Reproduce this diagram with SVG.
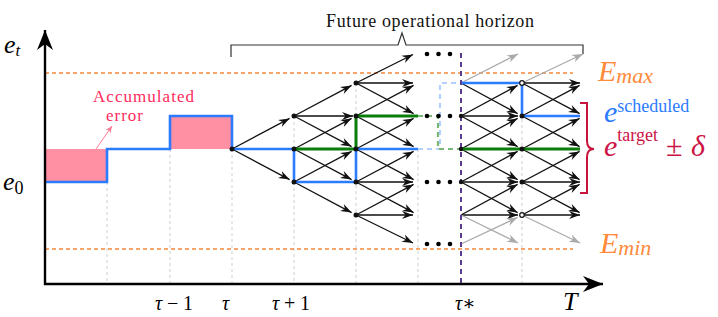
<svg xmlns="http://www.w3.org/2000/svg" width="718" height="317" viewBox="0 0 718 317">
<style>
.grid{stroke:#cfcfcf;stroke-width:1;stroke-dasharray:3 3;fill:none}
.lim{stroke:#f7883a;stroke-width:1.6;stroke-dasharray:4 3;fill:none}
.ar{stroke:#111;stroke-width:1.3;fill:none;marker-end:url(#ah)}
.gr{stroke:#aaa;stroke-width:1.3;fill:none;marker-end:url(#ahg)}
.blue{stroke:#2b7bff;stroke-width:2.6;fill:none}
.green{stroke:#0a7d0a;stroke-width:3;fill:none}
.dot{fill:#111}
.t{font-family:"Liberation Serif","DejaVu Serif",serif}
.it{font-style:italic}
</style>
<defs>
<marker id="ah" markerUnits="userSpaceOnUse" markerWidth="14" markerHeight="10" viewBox="-11 -5 12 10" refX="0" refY="0" orient="auto"><path d="M0,0 L-11,-4 L-7.5,0 L-11,4 Z" fill="#111"/></marker>
<marker id="ahg" markerUnits="userSpaceOnUse" markerWidth="14" markerHeight="10" viewBox="-11 -5 12 10" refX="0" refY="0" orient="auto"><path d="M0,0 L-11,-4 L-7.5,0 L-11,4 Z" fill="#aaa"/></marker>
<marker id="ahp" markerUnits="userSpaceOnUse" markerWidth="10" markerHeight="8" viewBox="-8 -4 9 8" refX="0" refY="0" orient="auto"><path d="M0,0 L-7,-3 L-5,0 L-7,3 Z" fill="#ff7a95"/></marker>
<marker id="axh" markerUnits="userSpaceOnUse" markerWidth="24" markerHeight="18" viewBox="-21 -9 22 18" refX="0" refY="0" orient="auto"><path d="M0,0 L-20,-8 L-14,0 L-20,8 Z" fill="#000"/></marker>
</defs>

<g id="gridlines">
<path class="grid" d="M107,182V284M170,149V284M232,149V284M294,116V284M356,83V284M418,149V284M522,83V284"/>
</g>

<g id="limits">
<path class="lim" d="M45,73H573M45,249H573"/>
</g>

<g id="accumulated-error-area">
<rect x="45" y="149" width="62" height="33" fill="#ff8fa2"/>
<rect x="170" y="116" width="62" height="33" fill="#ff8fa2"/>
</g>

<g id="connectors">
<path class="ar" d="M232,149L289.6,118.4"/>
<path class="ar" d="M232,149L289.6,179.6"/>
<path class="ar" d="M294,116L351.6,85.4"/>
<path class="ar" d="M294,116L353,116"/>
<path class="ar" d="M294,116L351.6,146.6"/>
<path class="ar" d="M294,149L351.6,118.4"/>
<path class="ar" d="M294,149L351.6,179.6"/>
<path class="ar" d="M294,182L351.6,151.4"/>
<path class="ar" d="M294,182L351.6,212.6"/>
<path class="ar" d="M356,83L413,54.5"/>
<path class="ar" d="M356,83L413,83"/>
<path class="ar" d="M356,83L413.6,113.6"/>
<path class="ar" d="M356,116L413.6,85.4"/>
<path class="ar" d="M356,116L413.6,146.6"/>
<path class="ar" d="M356,149L413.6,118.4"/>
<path class="ar" d="M356,149L413.6,179.6"/>
<path class="ar" d="M356,182L413.6,151.4"/>
<path class="ar" d="M356,182L413,182"/>
<path class="ar" d="M356,182L413.6,212.6"/>
<path class="ar" d="M356,215L413.6,184.4"/>
<path class="ar" d="M356,215L413,215"/>
<path class="ar" d="M356,215L413,243"/>
<path class="gr" d="M461,83L518,54"/>
<path class="ar" d="M461,83L517.6,113.6"/>
<path class="ar" d="M461,116L517.6,85.4"/>
<path class="ar" d="M461,116L518,116"/>
<path class="ar" d="M461,116L517.6,146.6"/>
<path class="ar" d="M461,149L517.6,118.4"/>
<path class="ar" d="M461,149L517.6,179.6"/>
<path class="ar" d="M461,182L517.6,151.4"/>
<path class="ar" d="M461,182L518,182"/>
<path class="ar" d="M461,182L517.6,212.6"/>
<path class="ar" d="M461,215L517.6,184.4"/>
<path class="ar" d="M461,215L518,215"/>
<path class="gr" d="M461,215L518,243"/>
<path class="gr" d="M461,244L517.6,217.4"/>
<path class="gr" d="M522,83L583,54"/>
<path class="ar" d="M522,83L580,83"/>
<path class="ar" d="M522,83L579.6,113.6"/>
<path class="ar" d="M522,116L579.6,85.4"/>
<path class="ar" d="M522,116L579.6,146.6"/>
<path class="ar" d="M522,149L579.6,118.4"/>
<path class="ar" d="M522,149L579.6,179.6"/>
<path class="ar" d="M522,182L579.6,151.4"/>
<path class="ar" d="M522,182L580,182"/>
<path class="ar" d="M522,182L579.6,212.6"/>
<path class="ar" d="M522,215L579.6,184.4"/>
<path class="ar" d="M522,215L580,215"/>
<path class="gr" d="M522,215L580,243"/>
<path d="M96,149L112,126" stroke="#ff7a95" stroke-width="1" fill="none" marker-end="url(#ahp)"/>
</g>

<g id="schedule-paths">
<path d="M418,149H440V83H461" stroke="#b3d0ff" stroke-width="2.2" stroke-dasharray="5 4" fill="none"/>
<path d="M418,116H438V149H461" stroke="#77b877" stroke-width="2.2" stroke-dasharray="5 4" fill="none"/>
<path class="blue" d="M45,182H107V149H170V116H232V149H294V182H356V149H418"/>
<path class="blue" d="M461,83H522V116H580"/>
<path class="green" d="M294,149H356V116H418"/>
<path class="green" d="M461,149H580"/>
</g>

<g id="tau-star-line">
<path d="M461,53V284" stroke="#5a3b8c" stroke-width="2" stroke-dasharray="5 4" fill="none"/>
</g>

<g id="nodes">
<g id="n-tau"><circle class="dot" cx="232" cy="149" r="2.5"/></g>
<g id="n1-116"><circle class="dot" cx="294" cy="116" r="2.5"/></g>
<g id="n1-149"><circle class="dot" cx="294" cy="149" r="2.5"/></g>
<g id="n1-182"><circle class="dot" cx="294" cy="182" r="2.5"/></g>
<g id="n2-83"><circle class="dot" cx="356" cy="83" r="2.5"/></g>
<g id="n2-116"><circle class="dot" cx="356" cy="116" r="2.5"/></g>
<g id="n2-149"><circle class="dot" cx="356" cy="149" r="2.5"/></g>
<g id="n2-182"><circle class="dot" cx="356" cy="182" r="2.5"/></g>
<g id="n2-215"><circle class="dot" cx="356" cy="215" r="2.5"/></g>
<g id="ns-116"><circle class="dot" cx="461" cy="116" r="2.2"/></g>
<g id="ns-149"><circle class="dot" cx="461" cy="149" r="2.2"/></g>
<g id="ns-182"><circle class="dot" cx="461" cy="182" r="2.2"/></g>
<g id="n4-83"><circle cx="522" cy="83" r="2.3" fill="#fff" stroke="#111" stroke-width="1.2"/></g>
<g id="n4-116"><circle class="dot" cx="522" cy="116" r="2.5"/></g>
<g id="n4-149"><circle class="dot" cx="522" cy="149" r="2.5"/></g>
<g id="n4-182"><circle class="dot" cx="522" cy="182" r="2.5"/></g>
<g id="n4-215"><circle cx="522" cy="215" r="2.3" fill="#fff" stroke="#111" stroke-width="1.2"/></g>
<g id="ellipses" fill="#000">
<circle cx="427" cy="54" r="2.3"/><circle cx="438.5" cy="54" r="2.3"/><circle cx="450" cy="54" r="2.3"/>
<circle cx="427" cy="116" r="2.3"/><circle cx="438.5" cy="116" r="2.3"/><circle cx="450" cy="116" r="2.3"/>
<circle cx="427" cy="182" r="2.3"/><circle cx="438.5" cy="182" r="2.3"/><circle cx="450" cy="182" r="2.3"/>
<circle cx="427" cy="244" r="2.3"/><circle cx="438.5" cy="244" r="2.3"/><circle cx="450" cy="244" r="2.3"/>
</g>
</g>

<g id="axes">
<path d="M45,285V30" stroke="#000" stroke-width="2.4" fill="none" marker-end="url(#axh)"/>
<path d="M44,284H603" stroke="#000" stroke-width="2.4" fill="none" marker-end="url(#axh)"/>
</g>

<g id="horizon-brace">
<path d="M231,57V45H398L402,33L406,45H583V54" stroke="#333" stroke-width="1.2" fill="none"/>
<text class="t" x="326" y="27" font-size="18" textLength="208" fill="#111">Future operational horizon</text>
</g>

<g id="target-brace">
<path d="M580,103H587V141Q587,149 594,149Q587,149 587,157V193H580" stroke="#c8143c" stroke-width="2" fill="none"/>
</g>

<g id="labels">
<text class="t it" x="4" y="53" font-size="26">e<tspan font-size="17" dy="3">t</tspan></text>
<text class="t it" x="3" y="190" font-size="26">e<tspan font-size="18" dy="4" font-style="normal">0</tspan></text>
<text class="t" x="93" y="102" font-size="17" textLength="101" fill="#ff2a5c">Accumulated</text>
<text class="t" x="106" y="121" font-size="17" textLength="37" fill="#ff2a5c">error</text>
<text class="t" x="155" y="310" font-size="20" textLength="38"><tspan font-style="italic">τ</tspan>−1</text>
<text class="t it" x="222" y="310" font-size="20">τ</text>
<text class="t" x="272" y="310" font-size="20" textLength="38"><tspan font-style="italic">τ</tspan>+1</text>
<text class="t" x="455" y="310" font-size="20"><tspan font-style="italic">τ</tspan>∗</text>
<text class="t it" x="563" y="310" font-size="26">T</text>
<text class="t it" x="598" y="81" font-size="30" fill="#ff8a3a">E<tspan font-size="22" dy="2">max</tspan></text>
<text class="t it" x="600" y="253" font-size="30" fill="#ff8a3a">E<tspan font-size="22" dy="2">min</tspan></text>
<text class="t" x="604" y="122" font-size="30" fill="#2b7bff"><tspan font-style="italic">e</tspan><tspan font-size="18" dy="-10">scheduled</tspan></text>
<text class="t" x="604" y="156" font-size="30" fill="#cc1446"><tspan font-style="italic">e</tspan><tspan font-size="18" dy="-15">target</tspan><tspan dy="15" x="666">±</tspan><tspan font-style="italic" x="691">δ</tspan></text>
</g>
</svg>
